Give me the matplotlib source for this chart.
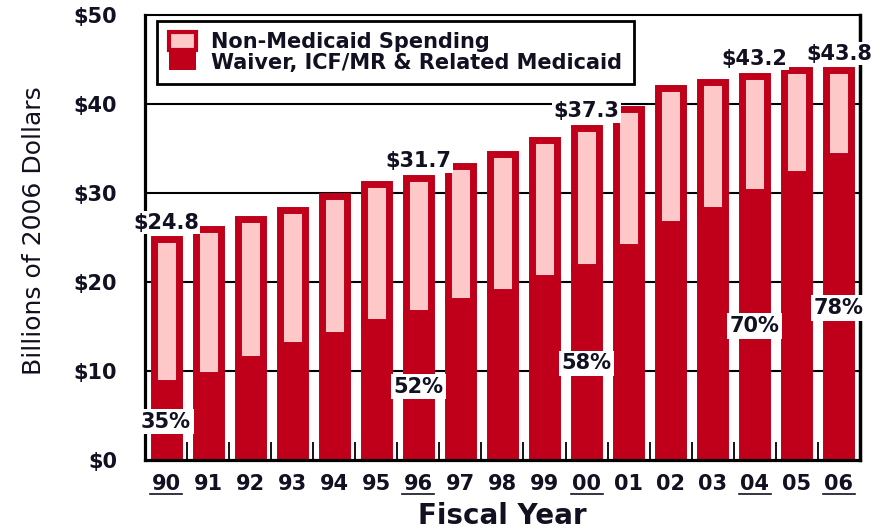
import matplotlib
matplotlib.use("Agg")
import matplotlib.pyplot as plt
from matplotlib.patches import Patch

# fiscal years and spending, billions of 2006 dollars
years = ["90", "91", "92", "93", "94", "95", "96", "97", "98",
         "99", "00", "01", "02", "03", "04", "05", "06"]
total = [24.8, 26.0, 27.1, 28.1, 29.7, 31.0, 31.7, 33.0, 34.4,
         36.0, 37.3, 39.4, 41.8, 42.5, 43.2, 43.8, 43.8]
medicaid = [8.6, 9.6, 11.4, 12.9, 14.1, 15.5, 16.5, 17.9, 18.9,
            20.4, 21.7, 23.9, 26.5, 28.1, 30.1, 32.1, 34.2]
non_medicaid = [t - m for t, m in zip(total, medicaid)]

# years that get a total label, a share label and an underline
marked = ["90", "96", "00", "04", "06"]
marked_share = ["35%", "52%", "58%", "70%", "78%"]

y_ticks = [0, 10, 20, 30, 40, 50]
y_tick_labels = ["$0", "$10", "$20", "$30", "$40", "$50"]

RED = "#C0001A"
PINK = "#FFC8C8"
INK = "#111122"

plt.rcParams["font.family"] = ["DejaVu Sans"]

fig = plt.figure(figsize=(8.83, 5.32), dpi=100)
ax = fig.add_axes([0.1642, 0.1353, 0.8097, 0.8365])

x = list(range(len(years)))
ax.bar(x, medicaid, width=0.595, color=RED, edgecolor=RED,
       linewidth=5, zorder=3)
ax.bar(x, non_medicaid, bottom=medicaid, width=0.595, color=PINK,
       edgecolor=RED, linewidth=5, zorder=3)

for yv in y_ticks[1:-1]:
    ax.axhline(yv, color="black", linewidth=1.5, zorder=1)

ax.set_xlim(-0.5, len(years) - 0.5)
ax.set_ylim(0, 50)
ax.set_yticks(y_ticks)
ax.set_yticklabels(y_tick_labels, fontsize=15, fontweight="bold", color=INK)
ax.set_xticks(x)
ax.set_xticklabels(years, fontsize=15, fontweight="bold", color=INK)
ax.set_xticks([i + 0.5 for i in x[:-1]], minor=True)
ax.tick_params(axis="x", which="major", length=0, pad=10)
ax.tick_params(axis="x", which="minor", direction="in", length=13,
               width=1.3, color="black")
ax.tick_params(axis="y", which="major", length=0, pad=20)

for side, lw in [("left", 2.3), ("bottom", 2.3), ("right", 2.5), ("top", 1.5)]:
    ax.spines[side].set_linewidth(lw)
    ax.spines[side].set_color("black")
    ax.spines[side].set_zorder(4)

for yr, share in zip(marked, marked_share):
    i = years.index(yr)
    ax.annotate("$%.1f" % total[i], xy=(i, total[i]), xytext=(0, 12),
                textcoords="offset points", ha="center", va="center",
                fontsize=15, fontweight="bold", color=INK, zorder=5,
                bbox=dict(facecolor="white", edgecolor="none", pad=1))
    ax.text(i, medicaid[i] / 2, share, ha="center", va="center",
            fontsize=15, fontweight="bold", color=INK, zorder=5,
            bbox=dict(facecolor="white", edgecolor="none", pad=2))
    ax.plot([i - 0.38, i + 0.38], [-0.076, -0.076], color=INK,
            linewidth=1.2, transform=ax.get_xaxis_transform(), clip_on=False)

ax.set_ylabel("Billions of 2006 Dollars", fontsize=18, color=INK, labelpad=8)
ax.yaxis.set_label_coords(-0.138, 0.515)
ax.set_xlabel("Fiscal Year", fontsize=20, fontweight="bold", color=INK,
              labelpad=6)

handles = [Patch(facecolor=PINK, edgecolor=RED, linewidth=3),
           Patch(facecolor=RED, edgecolor=RED, linewidth=0)]
labels = ["Non-Medicaid Spending", "Waiver, ICF/MR & Related Medicaid"]
leg = ax.legend(handles, labels, loc="upper left",
                bbox_to_anchor=(0.017, 0.987), borderaxespad=0,
                prop={"size": 15, "weight": "bold"}, labelcolor=INK,
                handlelength=1.3, handleheight=0.95, labelspacing=0.0,
                handletextpad=0.75, borderpad=0.55, fancybox=False,
                framealpha=1, edgecolor="black")
leg.get_frame().set_linewidth(2)
leg.set_zorder(6)

fig.savefig("out.png", dpi=100)
